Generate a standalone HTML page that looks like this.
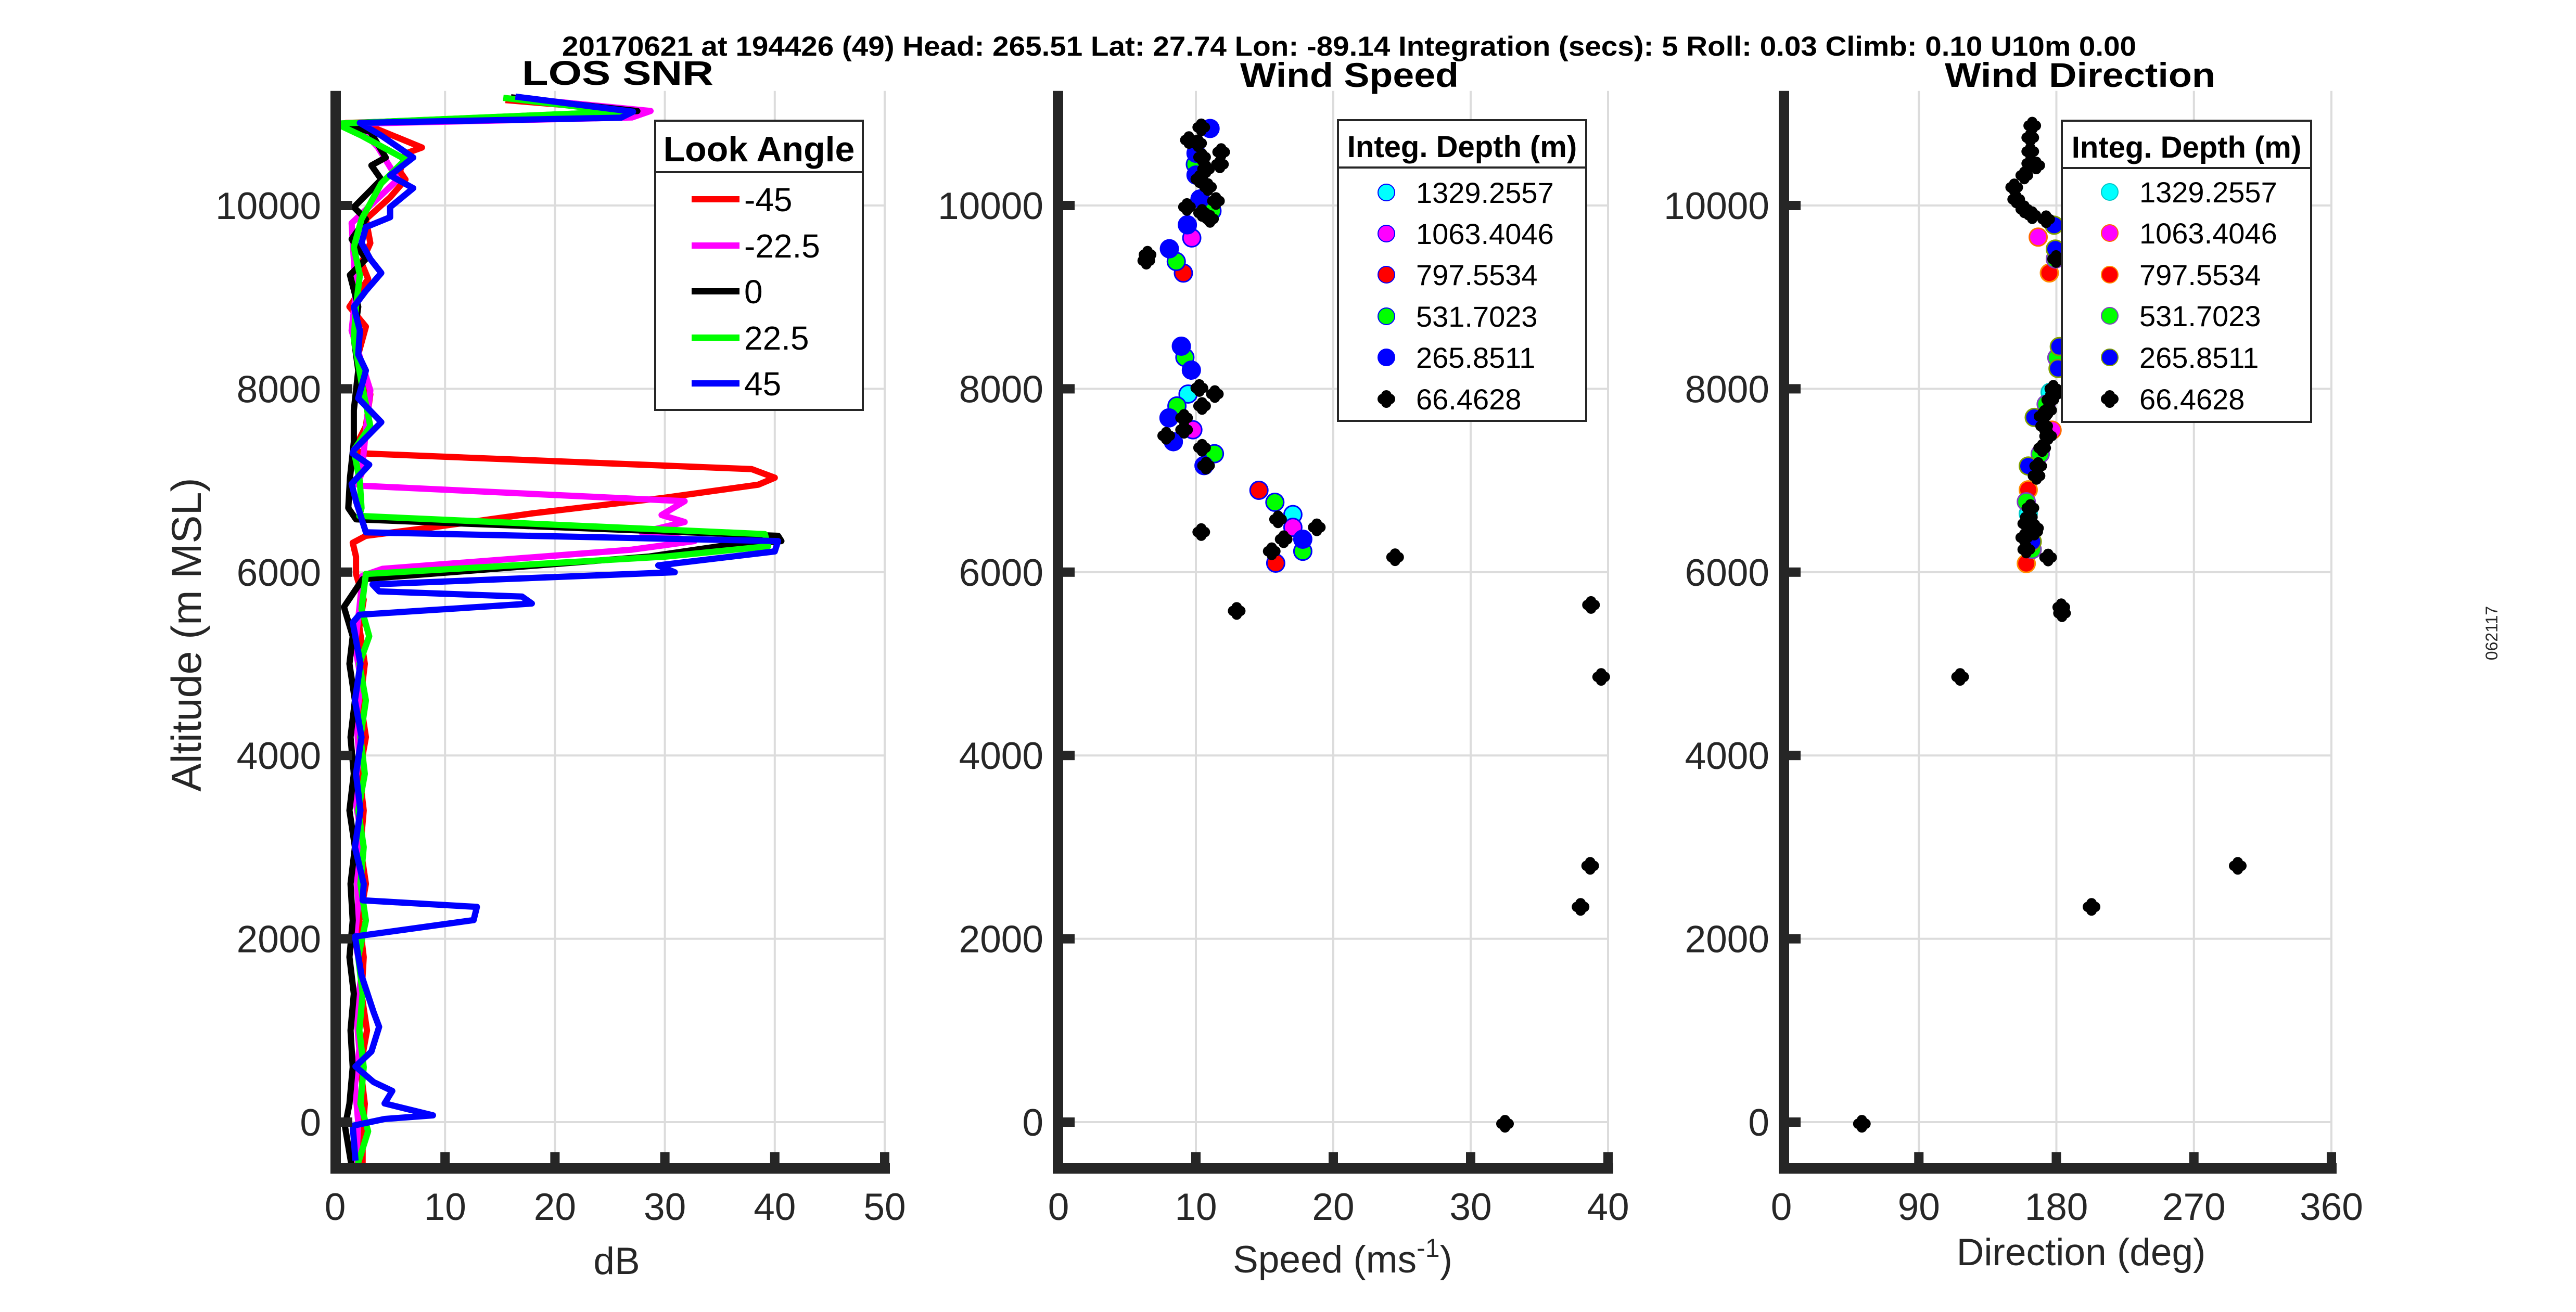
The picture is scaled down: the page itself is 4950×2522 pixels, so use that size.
<!DOCTYPE html>
<html><head><meta charset="utf-8"><style>
html,body{margin:0;padding:0;background:#fff;}
svg{display:block;font-family:"Liberation Sans",Arial,sans-serif;}
</style></head><body>
<svg id="fig" xmlns="http://www.w3.org/2000/svg" width="4950" height="2522" viewBox="0 0 4950 2522">
<rect x="0" y="0" width="4950" height="2522" fill="#fff"/>
<text x="1080" y="107" font-weight="bold" font-size="53" textLength="3025" lengthAdjust="spacingAndGlyphs" fill="#000">20170621 at 194426 (49)  Head: 265.51  Lat: 27.74  Lon: -89.14  Integration (secs): 5  Roll: 0.03  Climb: 0.10  U10m 0.00</text>
<text x="1003" y="163" font-weight="bold" font-size="66" textLength="368" lengthAdjust="spacingAndGlyphs">LOS SNR</text>
<text x="2383" y="167" font-weight="bold" font-size="66" textLength="420" lengthAdjust="spacingAndGlyphs">Wind Speed</text>
<text x="3737" y="167" font-weight="bold" font-size="66" textLength="520" lengthAdjust="spacingAndGlyphs">Wind Direction</text>
<text transform="translate(386,1220) rotate(-90)" text-anchor="middle" font-size="81" fill="#262626">Altitude (m MSL)</text>
<text x="1185" y="2449" text-anchor="middle" font-size="73" fill="#262626">dB</text>
<text x="2580" y="2446" text-anchor="middle" font-size="73" fill="#262626">Speed (ms<tspan dy="-30" font-size="50">-1</tspan><tspan dy="30">)</tspan></text>
<text x="3999" y="2432" text-anchor="middle" font-size="73" fill="#262626">Direction (deg)</text>
<text transform="translate(4799,1217) rotate(-90)" text-anchor="middle" font-size="32" fill="#262626">062117</text>
<g id="layer"></g>
</svg>
<script>
// ---------- Data ----------
const yTicks = [0, 2000, 4000, 6000, 8000, 10000];
const snrTicks = [0, 10, 20, 30, 40, 50];
const speedTicks = [0, 10, 20, 30, 40];
const dirTicks = [0, 90, 180, 270, 360];
const lookAngles = ["-45", "-22.5", "0", "22.5", "45"];
const depthLabels = ["1329.2557", "1063.4046", "797.5534", "531.7023", "265.8511", "66.4628"];

const altRed = [11150,11060,10990,10900,10849,10632,10567,10371,10284,10089,9850,9590,9373,9199,8895,8678,8374,7940,7593,7332,7294,7124,7030,6954,6812,6642,6490,6396,6320,6169,5980,5700,5400,5000,4600,4200,3800,3400,3000,2600,2200,1800,1400,1000,600,200,-100,-480];
const snrRed = [15.5,24.5,25,1,3.5,7.9,6.4,5.9,6.4,5,2.8,3.2,2.4,3,1.3,2.8,2.1,3.2,2.8,1.7,2.8,37.9,40,38.5,30,18,8.9,2.8,1.6,1.9,1.9,2.6,2.2,2.7,2.3,2.8,2.2,2.6,2.3,2.8,2.2,2.6,2.4,2.9,2.3,2.7,2.5,2.5];
const altMagenta = [11180,11031,10960,10892,10632,10284,9807,9416,9069,8635,7983,7549,7072,6960,6944,6774,6623,6547,6434,6339,6245,6036,5961,5600,5200,4800,4400,4000,3600,3200,2800,2400,2000,1600,1200,800,400,0,-480];
const snrMagenta = [16,28.7,27,1.9,3.9,5.7,1.5,1.7,1.9,1.5,3.2,2.8,2.4,2,2.2,31.8,29.7,31.8,27.9,32.7,27,4.3,2.5,2.2,1.8,2.4,1.9,2.2,1.7,2.3,1.9,2.1,1.8,2.4,1.9,2.2,1.8,2.1,1.9];
const altBlack = [11180,11030,10892,10806,10523,10437,10284,9981,9850,9633,9416,9242,8895,8548,8200,7766,7419,7028,6700,6576,6396,6339,6301,6169,5923,5620,5300,5000,4600,4200,3800,3400,3000,2600,2200,1800,1400,1000,600,200,-50,-480];
const snrBlack = [16,27.5,0.3,3.2,4.6,3.3,4.2,1.7,2.8,1.5,2.8,1.35,2.1,1.7,2.1,1.7,1.7,1.35,1.2,1.9,40.3,40.6,36,28.5,2.5,0.8,1.6,1.3,1.8,1.4,1.7,1.3,1.8,1.4,1.6,1.3,1.7,1.4,1.6,1.3,0.9,1.5];
const altGreen = [11175,11023,10892,10762,10502,10241,9850,9546,9242,8895,8548,8070,7593,7332,6985,6700,6613,6415,6282,6169,5980,5600,5300,5000,4600,4200,3800,3400,3000,2600,2200,1800,1400,1000,600,200,-100,-480];
const snrGreen = [15.3,26,0.1,2.4,6.4,4.2,2.4,1.7,2.25,1.9,1.7,2.4,3.2,1.7,2.25,2.4,2.2,39.1,39.4,30,2.8,2.4,3.1,2.2,2.8,2.3,2.7,2.1,2.6,2.3,2.8,2.1,2.5,2.2,2.6,2.3,3,2];
const altBlue = [11188,11023,10958,10901,10762,10523,10328,10189,9981,9872,9764,9590,9416,9264,9069,8895,8635,8374,8200,7896,7636,7332,7294,7172,6963,6774,6661,6547,6434,6339,6226,6074,5999,5866,5790,5734,5658,5535,5450,5000,4600,4200,3800,3400,3000,2600,2420,2348,2204,2025,1600,1200,1039,770,607,437,340,204,74,34,-40,-420];
const snrBlue = [16.4,27.1,26,2.25,4.2,7.1,5,7.1,5,5,2.8,2.4,3.2,4.2,2.8,1.7,2.25,2.1,2.8,2.1,4.2,1.7,1.6,3.1,1.5,1.9,2.2,2.5,2.8,40.3,40,29.4,30.9,3.4,4,17,17.9,2.2,1.6,2.3,1.8,2.4,1.9,2.3,1.8,2.6,2.5,12.9,12.6,1.8,2.4,3.5,4,3.3,1.85,3.5,5.2,4.5,8.9,4.5,1.6,1.85];

const spdCyan = [9.43, 17.06];
const altSpdCyan = [7943, 6628];
const spdMagenta = [9.70, 9.78, 17.06];
const altSpdMagenta = [9646, 7553, 6489];
const spdRed = [9.09, 14.59, 15.81];
const altSpdRed = [9263, 6893, 6098];
const spdGreen = [9.96, 11.17, 8.57, 9.20, 8.62, 11.35, 15.75, 17.78];
const altSpdGreen = [10449, 9941, 9389, 8343, 7813, 7292, 6762, 6228];
const spdBlue = [11.03, 10.01, 10.01, 10.30, 9.38, 8.07, 8.94, 9.67, 8.04, 8.36, 10.59, 17.78];
const altSpdBlue = [10840, 10570, 10332, 10071, 9789, 9528, 8465, 8204, 7683, 7423, 7162, 6359];
const spdBlack = [10.39,9.49,10.16,11.84,10.45,11.75,10.74,10.25,10.88,11.46,9.35,10.45,11.03,6.48,6.39,10.25,11.38,10.45,9.14,9.14,7.84,10.45,10.74,15.98,18.80,16.39,15.52,10.39,24.50,12.97,38.76,39.5,38.7,38.0,32.5];
const altSpdBlack = [10853,10714,10679,10583,10527,10449,10397,10288,10201,10049,9984,9919,9854,9463,9398,8009,7943,7813,7683,7553,7488,7357,7162,6576,6489,6359,6228,6437,6163,5577,5642,4857,2796,2348,-18];

const dirCyan = [175.9, 161.6];
const altDirCyan = [7962, 6637];
const dirMagenta = [168.1, 177.2];
const altDirMagenta = [9655, 7549];
const dirRed = [175.4, 161.6, 160.3];
const altDirRed = [9264, 6898, 6094];
const dirGreen = [179.3, 180.3, 173.3, 169.4, 160.3, 164.2];
const altDirGreen = [9416, 8339, 7832, 7289, 6768, 6247];
const dirBlue = [178.5, 179.3, 181.9, 181.1, 165.5, 161.6, 164.2];
const altDirBlue = [9785, 9525, 8461, 8222, 7688, 7158, 6333];
const dirBlack = [164.2,162.9,162.9,162.9,166.8,159,152.4,153.7,159,164.2,173.3,179.8,178,176,178.5,174.6,171,172,174.6,170.7,168.1,167,163,162,166,160.3,165.5,159,160.3,174.6,183.2,183.7,117,298.7,203,52.7];
const altDirBlack = [10871,10740,10589,10458,10437,10328,10198,10067,9959,9894,9850,9416,8000,7880,7940,7766,7700,7593,7484,7354,7158,7050,6700,6600,6480,6529,6442,6377,6247,6160,5617,5552,4857,2796,2348,-18];

// ---------- Layout ----------
const NS = "http://www.w3.org/2000/svg";
const layer = document.getElementById('layer');
const Y_MIN = -500, Y_MAX = 11250;
function yPix(v){ return 2157 - 0.1762 * v; }
const panels = [
  {name:'snr', x0:644, x1:1700, min:0, max:50, ticks:snrTicks, axisX:645},
  {name:'speed', x0:2034, x1:3090, min:0, max:40, ticks:speedTicks, axisX:2033},
  {name:'direction', x0:3423, x1:4480, min:0, max:360, ticks:dirTicks, axisX:3428}
];
function xScale(p, v){ return p.x0 + (v - p.min) / (p.max - p.min) * (p.x1 - p.x0); }
function mk(tag, attrs, parent){
  const el = document.createElementNS(NS, tag);
  for (const k in attrs) el.setAttribute(k, attrs[k]);
  (parent || layer).appendChild(el);
  return el;
}
const topY = yPix(Y_MAX), botY = 2246;
const AX = '#262626';

panels.forEach(p => {
  const g = mk('g', {});
  
  
  p.ticks.forEach(t => {
    if (t === p.min) return;
    const x = xScale(p, t);
    const l = mk('line', {x1:x, x2:x, y1:topY, y2:botY, stroke:'#dcdcdc', 'stroke-width':4}, g);
    
    
  });
  yTicks.forEach(t => {
    const y = yPix(t);
    const l = mk('line', {x1:p.axisX, x2:p.x1, y1:y, y2:y, stroke:'#dcdcdc', 'stroke-width':4}, g);
    
    
  });
  p.g = g;
});

// ---------- SNR lines ----------
const snrSeries = [
  {alt:altRed, v:snrRed, c:'#ff0000'},
  {alt:altMagenta, v:snrMagenta, c:'#ff00ff'},
  {alt:altBlack, v:snrBlack, c:'#000000'},
  {alt:altGreen, v:snrGreen, c:'#00ff00'},
  {alt:altBlue, v:snrBlue, c:'#0000ff'}
];
const pSnr = panels[0];
snrSeries.forEach((s, i) => {
  const pts = s.alt.map((a, k) => xScale(pSnr, s.v[k]).toFixed(1) + ',' + yPix(a).toFixed(1)).join(' ');
  const pl = mk('polyline', {points:pts, fill:'none', stroke:s.c, 'stroke-width':12, 'stroke-linejoin':'round', 'stroke-linecap':'butt'});
  
  
});

// ---------- Scatter ----------
const dotColors = ['#00ffff', '#ff00ff', '#ff0000', '#00ff00', '#0000ff'];
function blackMarker(x, y, parent){
  const g = mk('g', {}, parent);
  mk('rect', {x:x-17, y:y-10, width:34, height:20, rx:10, fill:'#000'}, g);
  mk('rect', {x:x-10, y:y-17, width:20, height:34, rx:10, fill:'#000'}, g);
  mk('circle', {cx:x, cy:y, r:13, fill:'#000'}, g);
  return g;
}
function drawScatter(p, sets, blackX, blackAlt, edges){
  sets.forEach((s, i) => {
    s.x.forEach((v, k) => {
      const c = mk('circle', {cx:xScale(p, v), cy:yPix(s.a[k]), r:17, fill:dotColors[i], stroke:edges[i], 'stroke-width':3});
      
      
    });
  });
  blackX.forEach((v, k) => {
    const m = blackMarker(xScale(p, v), yPix(blackAlt[k]));
    
    
  });
}
drawScatter(panels[1], [
  {x:spdCyan, a:altSpdCyan}, {x:spdMagenta, a:altSpdMagenta}, {x:spdRed, a:altSpdRed},
  {x:spdGreen, a:altSpdGreen}, {x:spdBlue, a:altSpdBlue}
], spdBlack, altSpdBlack, ['#0000ff','#0000ff','#0000ff','#0000ff','#0000ff']);
drawScatter(panels[2], [
  {x:dirCyan, a:altDirCyan}, {x:dirMagenta, a:altDirMagenta}, {x:dirRed, a:altDirRed},
  {x:dirGreen, a:altDirGreen}, {x:dirBlue, a:altDirBlue}
], dirBlack, altDirBlack, ['#00c8c8','#ff6a00','#ff8c00','#8040c0','#80a000']);

// ---------- Axes lines, ticks, labels ----------
panels.forEach(p => {
  const g = mk('g', {});
  
  
  mk('rect', {x:p.axisX-10, y:topY, width:20, height:botY+10-topY, fill:AX}, g);
  mk('rect', {x:p.axisX-10, y:botY-10, width:p.x1+10-(p.axisX-10), height:20, fill:AX}, g);
  p.ticks.forEach(t => {
    const x = xScale(p, t);
    if (t !== p.min) mk('rect', {x:x-9, y:botY-31, width:18, height:22, fill:AX}, g);
    const tx = mk('text', {x:x, y:2345, 'text-anchor':'middle', 'font-size':73, fill:AX});
    tx.textContent = t;
    
    
  });
  yTicks.forEach(t => {
    const y = yPix(t);
    mk('rect', {x:p.axisX, y:y-9, width:32, height:18, fill:AX}, g);
    const tx = mk('text', {x:p.axisX-28, y:y+26, 'text-anchor':'end', 'font-size':73, fill:AX});
    tx.textContent = t;
    
    
  });
});

// ---------- Legends ----------
function legendBox(x, y, w, h, divY, title, fs, tb, name){
  const g = mk('g', {});
  
  
  mk('rect', {x:x, y:y, width:w, height:h, fill:'#fff', stroke:AX, 'stroke-width':4}, g);
  mk('line', {x1:x, x2:x+w, y1:divY, y2:divY, stroke:AX, 'stroke-width':4}, g);
  const t = mk('text', {x:x+w/2, y:tb, 'text-anchor':'middle', 'font-weight':'bold', 'font-size':fs, fill:'#000'}, g);
  t.textContent = title;
  return g;
}
const lg1 = legendBox(1259, 232, 399, 556, 331, 'Look Angle', 68, 310, 'look-angle-legend');
const lg1Y = [383, 472, 560, 649, 737];
lookAngles.forEach((lab, i) => {
  const e = mk('g', {}, lg1);
  
  
  mk('line', {x1:1329, x2:1421, y1:lg1Y[i], y2:lg1Y[i], stroke:snrSeries[i].c, 'stroke-width':12}, e);
  const t = mk('text', {x:1430, y:lg1Y[i]+23, 'font-size':64, fill:'#000'}, e);
  t.textContent = lab;
});
function depthLegend(x, y, w, h, divY, mx, tx, ys, name, edges){
  const lg = legendBox(x, y, w, h, divY, 'Integ. Depth (m)', 58, divY-20, name);
  depthLabels.forEach((lab, i) => {
    const e = mk('g', {}, lg);
    
    
    if (i < 5) mk('circle', {cx:mx, cy:ys[i], r:16, fill:dotColors[i], stroke:edges[i], 'stroke-width':2}, e);
    else blackMarker(mx, ys[i], e);
    const t = mk('text', {x:tx, y:ys[i]+20, 'font-size':56, fill:'#000'}, e);
    t.textContent = lab;
  });
}
depthLegend(2571, 231, 477, 578, 322, 2664, 2721, [370,449,528,608,687,767], 'speed-depth-legend', ['#0000ff','#0000ff','#0000ff','#0000ff','#0000ff']);
depthLegend(3962, 232, 479, 579, 323, 4054, 4111, [369,448,528,607,687,767], 'direction-depth-legend', ['#00c8c8','#ff6a00','#ff8c00','#8040c0','#80a000']);
</script>
</body></html>
